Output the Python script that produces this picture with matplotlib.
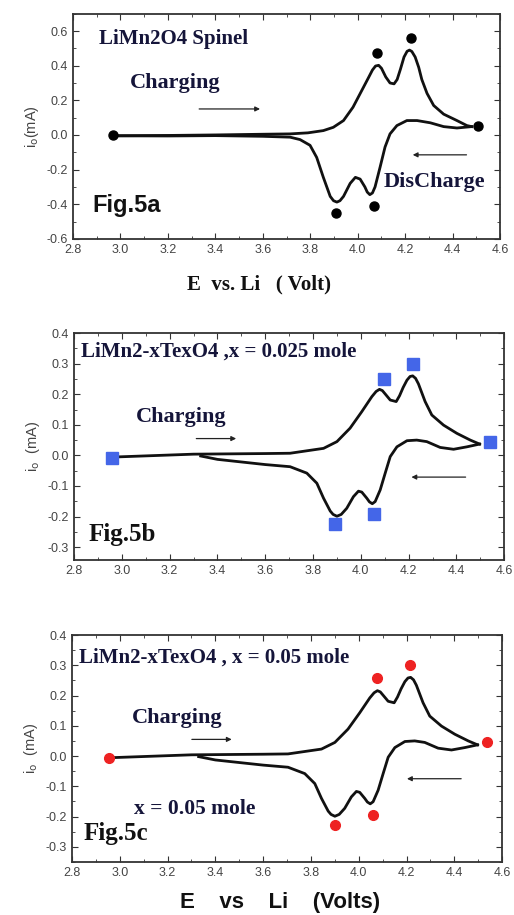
import matplotlib.pyplot as plt
from matplotlib.ticker import MultipleLocator

# panel a: LiMn2O4 spinel CV loop
a_fwd_x = [2.97, 3.2, 3.4, 3.6, 3.715, 3.79, 3.855, 3.897, 3.94, 3.98, 4.024, 4.045,
           4.062, 4.075, 4.088, 4.1, 4.118, 4.136, 4.153, 4.166, 4.18, 4.195, 4.208,
           4.218, 4.228, 4.242, 4.257, 4.27, 4.292, 4.32, 4.362, 4.418, 4.46, 4.48]
a_fwd_y = [-0.005, -0.003, 0.0, 0.004, 0.006, 0.012, 0.025, 0.044, 0.083, 0.16, 0.275,
           0.33, 0.375, 0.398, 0.402, 0.385, 0.335, 0.30, 0.295, 0.32, 0.38, 0.45,
           0.483, 0.49, 0.482, 0.45, 0.39, 0.32, 0.24, 0.17, 0.12, 0.083, 0.054, 0.048]
a_rev_x = [4.48, 4.418, 4.362, 4.306, 4.25, 4.207, 4.165, 4.136, 4.115, 4.094, 4.073,
           4.062, 4.051, 4.04, 4.03, 4.01, 3.99, 3.968, 3.94, 3.925, 3.912, 3.898,
           3.884, 3.855, 3.827, 3.799, 3.757, 3.715, 3.6, 3.4, 3.2, 2.97]
a_rev_y = [0.048, 0.04, 0.048, 0.07, 0.083, 0.083, 0.054, 0.006, -0.07, -0.187, -0.30,
           -0.335, -0.345, -0.33, -0.30, -0.255, -0.245, -0.28, -0.355, -0.38, -0.388,
           -0.38, -0.355, -0.245, -0.13, -0.06, -0.027, -0.013, -0.008, -0.004,
           -0.006, -0.005]
a_mark_x = [2.97, 4.083, 4.224, 4.506, 3.909, 4.068]
a_mark_y = [0.0, 0.473, 0.56, 0.052, -0.452, -0.41]

# panels b and c: LiMn2-xTexO4 CV loops (same shape in both)
bc_fwd_x = [2.98, 3.3, 3.6, 3.704, 3.844, 3.90, 3.955, 4.004, 4.046, 4.064, 4.078,
            4.09, 4.105, 4.123, 4.148, 4.162, 4.177, 4.193, 4.206, 4.217, 4.229,
            4.241, 4.255, 4.269, 4.297, 4.346, 4.402, 4.458, 4.497]
bc_fwd_y = [-0.005, 0.004, 0.006, 0.007, 0.023, 0.045, 0.089, 0.143, 0.192, 0.209,
            0.216, 0.212, 0.198, 0.181, 0.176, 0.195, 0.222, 0.246, 0.258, 0.26, 0.252,
            0.234, 0.205, 0.176, 0.132, 0.099, 0.072, 0.050, 0.037]
bc_rev_x = [4.497, 4.444, 4.388, 4.332, 4.276, 4.234, 4.193, 4.151, 4.123, 4.102,
            4.081, 4.060, 4.048, 4.036, 4.025, 4.004, 3.99, 3.969, 3.941, 3.918, 3.90,
            3.884, 3.872, 3.844, 3.816, 3.774, 3.704, 3.6, 3.4, 3.33]
bc_rev_y = [0.037, 0.028, 0.020, 0.026, 0.045, 0.050, 0.048, 0.028, -0.004, -0.058,
            -0.113, -0.151, -0.158, -0.152, -0.140, -0.12, -0.117, -0.135, -0.173,
            -0.193, -0.199, -0.193, -0.182, -0.140, -0.091, -0.058, -0.037, -0.030,
            -0.013, -0.002]

b_mark_x = [2.96, 4.095, 4.218, 4.541, 3.893, 4.057]
b_mark_y = [-0.01, 0.25, 0.298, 0.045, -0.224, -0.192]
c_mark_x = [2.955, 4.075, 4.215, 4.535, 3.90, 4.06]
c_mark_y = [-0.005, 0.258, 0.30, 0.048, -0.228, -0.195]

serif = ['Liberation Serif', 'DejaVu Serif']
sans = ['Liberation Sans', 'DejaVu Sans']
navy = '#15153a'

fig = plt.figure(figsize=(5.14, 9.15), dpi=100, facecolor='white')
ax_a = fig.add_axes([0.142, 0.739, 0.831, 0.246])
ax_b = fig.add_axes([0.144, 0.388, 0.837, 0.248])
ax_c = fig.add_axes([0.140, 0.058, 0.837, 0.248])


def style(ax, ylim, major, minor, ylabel):
    ax.set_xlim(2.8, 4.6)
    ax.set_ylim(*ylim)
    ax.xaxis.set_major_locator(MultipleLocator(0.2))
    ax.xaxis.set_minor_locator(MultipleLocator(0.1))
    ax.yaxis.set_major_locator(MultipleLocator(major))
    ax.yaxis.set_minor_locator(MultipleLocator(minor))
    ax.yaxis.set_major_formatter(plt.FuncFormatter(lambda v, p: f'{v:.1f}'))
    ax.tick_params(which='both', direction='in', top=True, right=True,
                   labelsize=9, labelcolor='#444444', color='#333333')
    ax.tick_params(which='major', length=4)
    ax.tick_params(which='minor', length=2)
    for s in ax.spines.values():
        s.set_linewidth(1.3)
        s.set_color('#333333')
    ax.set_ylabel(ylabel, fontsize=10.5, color='#444444', family=sans)
    for lab in ax.get_xticklabels() + ax.get_yticklabels():
        lab.set_family(sans)


def arrow(ax, x0, x1, y):
    ax.annotate('', xy=(x1, y), xytext=(x0, y),
                arrowprops=dict(arrowstyle='-|>', color='#222222', lw=0.9,
                                mutation_scale=7))


def loop(ax, fx, fy, rx, ry):
    ax.plot(fx, fy, color='#111111', lw=2, solid_joinstyle='round')
    ax.plot(rx, ry, color='#111111', lw=2, solid_joinstyle='round')


# --- panel a
loop(ax_a, a_fwd_x, a_fwd_y, a_rev_x, a_rev_y)
ax_a.plot(a_mark_x, a_mark_y, 'o', color='black', ms=6.5, ls='none')
style(ax_a, (-0.6, 0.7), 0.2, 0.1, r'i$_\mathrm{o}$(mA)')
ax_a.text(2.91, 0.555, 'LiMn2O4 Spinel', family=serif, fontweight='bold', fontsize=15,
          color=navy, va='center')
ax_a.text(3.04, 0.30, 'Charging', family=serif, fontweight='bold', fontsize=16,
          color=navy, va='center')
ax_a.text(4.11, -0.27, 'DisCharge', family=serif, fontweight='bold', fontsize=16,
          color=navy, va='center')
ax_a.text(2.88, -0.41, 'Fig.5a', family=sans, fontweight='bold', fontsize=17,
          color='#111111', va='center')
arrow(ax_a, 3.32, 3.60, 0.15)
arrow(ax_a, 4.47, 4.22, -0.115)
fig.text(0.504, 0.689, 'E  vs. Li   ( Volt)', family=serif, fontweight='bold',
         fontsize=15, color='#111111', ha='center', va='center')

# --- panel b
loop(ax_b, bc_fwd_x, bc_fwd_y, bc_rev_x, bc_rev_y)
ax_b.plot(b_mark_x, b_mark_y, 's', color='#4466e8', ms=9, ls='none')
style(ax_b, (-0.342, 0.4), 0.1, 0.05, r'i$_\mathrm{o}$  (mA)')
ax_b.text(2.83, 0.34, 'LiMn2-xTexO4 ,x = 0.025 mole', family=serif, fontweight='bold',
          fontsize=15, color=navy, va='center')
ax_b.text(3.06, 0.126, 'Charging', family=serif, fontweight='bold', fontsize=16,
          color=navy, va='center')
ax_b.text(2.86, -0.26, 'Fig.5b', family=serif, fontweight='bold', fontsize=18,
          color='#111111', va='center')
arrow(ax_b, 3.30, 3.49, 0.055)
arrow(ax_b, 4.45, 4.20, -0.071)

# --- panel c
loop(ax_c, bc_fwd_x, bc_fwd_y, bc_rev_x, bc_rev_y)
ax_c.plot(c_mark_x, c_mark_y, 'o', color='#ee2222', ms=7, ls='none')
style(ax_c, (-0.35, 0.4), 0.1, 0.05, r'i$_\mathrm{o}$  (mA)')
ax_c.text(2.83, 0.326, 'LiMn2-xTexO4 , x = 0.05 mole', family=serif, fontweight='bold',
          fontsize=15, color=navy, va='center')
ax_c.text(3.05, 0.127, 'Charging', family=serif, fontweight='bold', fontsize=16,
          color=navy, va='center')
ax_c.text(3.06, -0.175, 'x = 0.05 mole', family=serif, fontweight='bold', fontsize=15.5,
          color=navy, va='center')
ax_c.text(2.85, -0.255, 'Fig.5c', family=serif, fontweight='bold', fontsize=18,
          color='#111111', va='center')
arrow(ax_c, 3.29, 3.48, 0.055)
arrow(ax_c, 4.44, 4.19, -0.075)
fig.text(0.545, 0.014, 'E    vs    Li    (Volts)', family=sans, fontweight='bold',
         fontsize=16, color='#111111', ha='center', va='center')

plt.savefig('out.png', dpi=100, facecolor='white')
